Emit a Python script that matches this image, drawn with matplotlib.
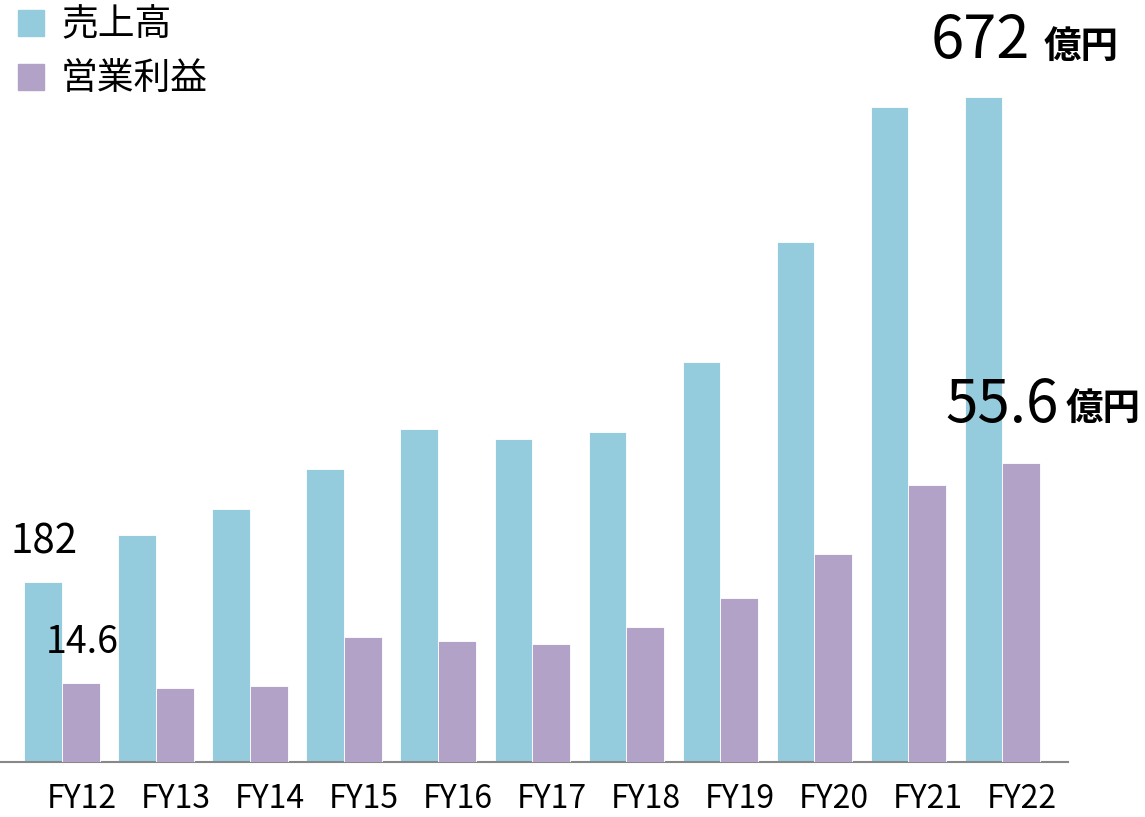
import numpy as np
import matplotlib.pyplot as plt

plt.rcParams['font.family'] = ['Noto Sans CJK JP', 'DejaVu Sans']

years = ['FY12', 'FY13', 'FY14', 'FY15', 'FY16', 'FY17', 'FY18', 'FY19', 'FY20', 'FY21', 'FY22']
sales = [182, 229, 256, 296, 336, 326, 333, 404, 525, 662, 672]
profit = [14.6, 13.8, 14.1, 23.2, 22.5, 21.9, 25.1, 30.5, 38.7, 51.5, 55.6]

blue = '#94CCDE'
purple = '#B3A2C8'

fig = plt.figure(figsize=(11.45, 8.17), dpi=100)
ax = fig.add_axes([0, 55 / 817, 1068 / 1145, 762 / 817])
ax2 = ax.twinx()

x = np.arange(len(years))
w = 0.4
ax.bar(x - w / 2, sales, w, color=blue, edgecolor='white', linewidth=0.6)
ax2.bar(x + w / 2, profit, w, color=purple, edgecolor='white', linewidth=0.6)

ax.set_xlim(-0.66, 10.70)
ax.set_ylim(0, 770)
ax2.set_ylim(0, 141.7)

for a in (ax, ax2):
    for s in ['top', 'right', 'left']:
        a.spines[s].set_visible(False)
    a.set_yticks([])
    a.set_xticks([])
ax2.spines['bottom'].set_visible(False)
ax.spines['bottom'].set_color('#888888')
ax.spines['bottom'].set_linewidth(1.5)

# year labels below the baseline
for xi, yr in zip(x, years):
    ax.text(xi + 0.21, -46 / 762, yr, transform=ax.get_xaxis_transform(),
            ha='center', va='baseline', fontsize=23, clip_on=False)

# value labels
ax.text(-0.19, sales[0] + 29, f'{sales[0]}', ha='center', va='baseline', fontsize=29)
ax2.text(0.21, profit[0] + 5.7, f'{profit[0]}', ha='center', va='baseline', fontsize=27)
ax.text(x[-1] + 0.30, sales[-1] + 39, f'{sales[-1]}', ha='right', va='baseline', fontsize=43)
ax.text(x[-1] + 0.44, sales[-1] + 39, '億円', ha='left', va='baseline', fontsize=27, fontweight='bold')
ax2.text(x[-1] + 0.60, profit[-1] + 7.6, f'{profit[-1]}', ha='right', va='baseline', fontsize=42)
ax2.text(x[-1] + 0.67, profit[-1] + 8.0, '億円', ha='left', va='baseline', fontsize=27, fontweight='bold')

# legend
fig.patches.append(plt.Rectangle((18 / 1145, 1 - 36 / 817), 26 / 1145, 26 / 817,
                                 transform=fig.transFigure, color=blue))
fig.patches.append(plt.Rectangle((18 / 1145, 1 - 90 / 817), 26 / 1145, 26 / 817,
                                 transform=fig.transFigure, color=purple))
fig.text(61 / 1145, 1 - 25 / 817, '売上高', fontsize=26.5, va='center', ha='left')
fig.text(61 / 1145, 1 - 78 / 817, '営業利益', fontsize=26.5, va='center', ha='left')

fig.savefig('out.png', dpi=100)
